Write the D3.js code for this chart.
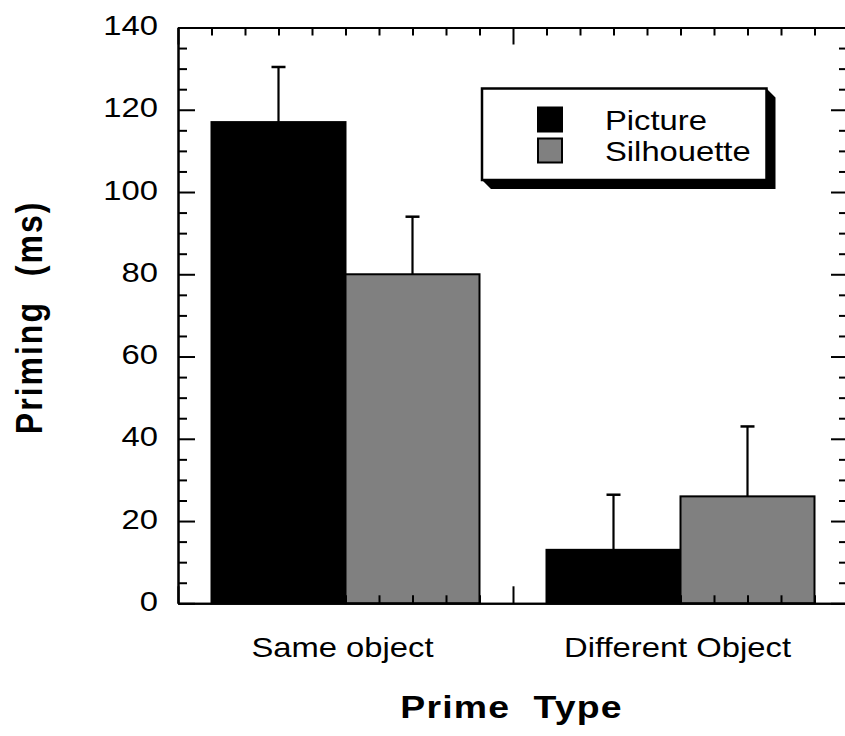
<!DOCTYPE html>
<html>
<head>
<meta charset="utf-8">
<script src="https://cdn.jsdelivr.net/npm/d3@7"></script>
<style>
  body { margin: 0; background: #fff; }
  svg { display: block; }
  text { font-family: "Liberation Sans", Arial, Helvetica, sans-serif; fill: #000; }
  .axis path, .axis line { stroke: #000; stroke-width: 2; }
</style>
</head>
<body>
<div id="chart"></div>
<script>
// data
var categories = ["Same object", "Different Object"]
var series = ["Picture", "Silhouette"]
var pictureVals = [117, 13]
var pictureErr = [13.4, 13.4]
var silhouetteVals = [80, 26]
var silhouetteErr = [14, 17]
var yTicks = [0, 20, 40, 60, 80, 100, 120, 140]
var colors = ["#000000", "#808080"]

var W = 845, H = 736
var pLeft = 178, pRight = 848, pTop = 27.5, pBottom = 603.3
var sx = 1.17   // the original text is a bit wide

var svg = d3.select("#chart").append("svg")
    .attr("width", W)
    .attr("height", H)

var x = d3.scaleBand().domain(categories).range([pLeft, pRight])
var xs = d3.scaleBand().domain(series).range([0, x.bandwidth()]).paddingOuter(0.25)
var y = d3.scaleLinear().domain([0, 140]).range([pBottom, pTop])
// grid of tenths for the top/bottom ticks
var xt = d3.scaleLinear().domain([0, 20]).range([pLeft, pRight])

var rows = categories.map(function(c, i) {
    return [
        { cat: c, s: series[0], v: pictureVals[i], e: pictureErr[i], col: colors[0] },
        { cat: c, s: series[1], v: silhouetteVals[i], e: silhouetteErr[i], col: colors[1] }
    ]
})
var flat = [].concat.apply([], rows)

// bars
svg.selectAll("rect.bar")
    .data(flat)
    .enter()
    .append("rect")
        .attr("class", "bar")
        .attr("x", function(d) { return x(d.cat) + xs(d.s) })
        .attr("y", function(d) { return y(d.v) })
        .attr("width", xs.bandwidth())
        .attr("height", function(d) { return y(0) - y(d.v) })
        .attr("fill", function(d) { return d.col })
        .attr("stroke", "#000")
        .attr("stroke-width", 2)

// error bars (upper only)
svg.selectAll("line.err")
    .data(flat)
    .enter()
    .append("line")
        .attr("x1", function(d) { return x(d.cat) + xs(d.s) + xs.bandwidth() / 2 })
        .attr("x2", function(d) { return x(d.cat) + xs(d.s) + xs.bandwidth() / 2 })
        .attr("y1", function(d) { return y(d.v) })
        .attr("y2", function(d) { return y(d.v + d.e) })
        .attr("stroke", "#000")
        .attr("stroke-width", 2.2)

svg.selectAll("line.cap")
    .data(flat)
    .enter()
    .append("line")
        .attr("x1", function(d) { return x(d.cat) + xs(d.s) + xs.bandwidth() / 2 - 7 })
        .attr("x2", function(d) { return x(d.cat) + xs(d.s) + xs.bandwidth() / 2 + 7 })
        .attr("y1", function(d) { return y(d.v + d.e) })
        .attr("y2", function(d) { return y(d.v + d.e) })
        .attr("stroke", "#000")
        .attr("stroke-width", 2.5)

// axes - all ticks point inward
var minorY = d3.range(0, 141, 5).filter(function(v) { return v % 20 != 0 })
var minorX = d3.range(0, 21).filter(function(v) { return v % 10 != 0 })

svg.append("g").attr("class", "axis")
    .attr("transform", "translate(" + pLeft + ",0)")
    .call(d3.axisLeft(y).tickValues(minorY).tickSize(-9).tickSizeOuter(0).tickFormat(""))
svg.append("g").attr("class", "axis")
    .attr("transform", "translate(" + pRight + ",0)")
    .call(d3.axisRight(y).tickValues(minorY).tickSize(-9).tickSizeOuter(0).tickFormat(""))
svg.append("g").attr("class", "axis")
    .attr("transform", "translate(" + pRight + ",0)")
    .call(d3.axisRight(y).tickValues(yTicks).tickSize(-17).tickSizeOuter(0).tickFormat(""))

var yAx = svg.append("g").attr("class", "axis")
    .attr("transform", "translate(" + pLeft + ",0)")
    .call(d3.axisLeft(y).tickValues(yTicks).tickSize(-17).tickSizeOuter(0))
yAx.selectAll("text")
    .attr("x", null)
    .attr("dy", null)
    .attr("transform", "translate(-20,7) scale(" + sx + ",1)")
    .style("font-size", "28px")

svg.append("g").attr("class", "axis")
    .attr("transform", "translate(0," + pTop + ")")
    .call(d3.axisTop(xt).tickValues(minorX).tickSize(-8).tickSizeOuter(0).tickFormat(""))
svg.append("g").attr("class", "axis")
    .attr("transform", "translate(0," + pTop + ")")
    .call(d3.axisTop(xt).tickValues([0, 10, 20]).tickSize(-17).tickSizeOuter(0).tickFormat(""))
svg.append("g").attr("class", "axis")
    .attr("transform", "translate(0," + pBottom + ")")
    .call(d3.axisBottom(xt).tickValues(minorX).tickSize(-8).tickSizeOuter(0).tickFormat(""))
svg.append("g").attr("class", "axis")
    .attr("transform", "translate(0," + pBottom + ")")
    .call(d3.axisBottom(xt).tickValues([0, 10, 20]).tickSize(-17).tickSizeOuter(0).tickFormat(""))

// category labels
svg.selectAll("text.cat")
    .data(categories)
    .enter()
    .append("text")
        .attr("class", "cat")
        .attr("transform", function(d) {
            return "translate(" + (x(d) + x.bandwidth() / 2 - 3) + ",656.5) scale(" + sx + ",1)"
        })
        .attr("text-anchor", "middle")
        .style("font-size", "28px")
        .text(function(d) { return d })

// axis titles
svg.append("text")
    .attr("transform", "translate(" + ((pLeft + 845) / 2) + ",718) scale(" + sx + ",1)")
    .attr("text-anchor", "middle")
    .style("font-size", "32px")
    .style("font-weight", "bold")
    .style("letter-spacing", "1px")
    .style("word-spacing", "10px")
    .text("Prime Type")

svg.append("text")
    .attr("transform", "translate(42," + ((pTop + pBottom) / 2 + 2) + ") scale(" + sx + ",1) rotate(-90)")
    .attr("text-anchor", "middle")
    .style("font-size", "32px")
    .style("font-weight", "bold")
    .style("letter-spacing", "2px")
    .style("word-spacing", "14px")
    .text("Priming (ms)")

// legend with drop shadow
var lx0 = 482, ly0 = 88.5, lx1 = 766.5, ly1 = 180, sh = 9
svg.append("polygon")
    .attr("points", [[lx0, ly1], [lx1, ly1], [lx1, ly0], [lx1 + sh, ly0 + sh], [lx1 + sh, ly1 + sh], [lx0 + sh, ly1 + sh]].join(" "))
    .attr("fill", "#000")
svg.append("rect")
    .attr("x", lx0).attr("y", ly0)
    .attr("width", lx1 - lx0).attr("height", ly1 - ly0)
    .attr("fill", "#fff")
    .attr("stroke", "#000")
    .attr("stroke-width", 2.5)

var leg = svg.selectAll("g.leg")
    .data(series)
    .enter()
    .append("g")
        .attr("transform", function(d, i) { return "translate(0," + (i * 31) + ")" })
leg.append("rect")
    .attr("x", 538).attr("y", 107.5)
    .attr("width", 24).attr("height", 24)
    .attr("fill", function(d, i) { return colors[i] })
    .attr("stroke", "#000")
    .attr("stroke-width", 2)
leg.append("text")
    .attr("transform", "translate(605,130) scale(" + sx + ",1)")
    .style("font-size", "28px")
    .text(function(d) { return d })
</script>
</body>
</html>
